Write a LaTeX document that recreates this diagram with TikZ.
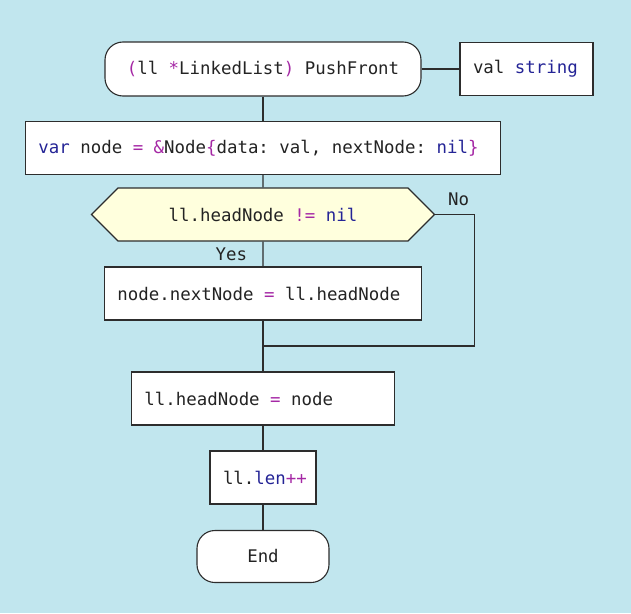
\documentclass[tikz,border=0pt]{standalone}
\usepackage{fontspec}
\setmonofont{DejaVu Sans Mono}
\usepackage{tikz}
\usetikzlibrary{shapes.symbols,positioning,calc}
\definecolor{bgblue}{RGB}{193,230,238}
\definecolor{kwblue}{RGB}{36,36,150}
\definecolor{oppurple}{RGB}{165,40,165}
\definecolor{decfill}{RGB}{255,255,221}
\definecolor{edge}{RGB}{45,45,45}
\definecolor{textgray}{RGB}{35,35,35}
\newcommand{\kw}[1]{\textcolor{kwblue}{#1}}
\newcommand{\op}[1]{\textcolor{oppurple}{#1}}
\tikzstyle{term} = [rectangle, draw=edge, fill=white, rounded corners=18pt, minimum height=54pt, align=center]
\tikzstyle{block} = [rectangle, draw=edge, fill=white, minimum height=53pt, inner xsep=13pt, align=flush left]
\tikzstyle{decision} = [signal, signal to=east and west, signal pointer angle=90, draw=edge, fill=decfill, minimum height=53pt, align=center]
\tikzstyle{line} = [draw=edge]

\begin{document}
\begin{tikzpicture}[node distance=79pt, line width=1.1pt, text=textgray, font=\ttfamily\fontsize{17.4}{20}\selectfont]
    \useasboundingbox [fill=bgblue] (-263pt,69pt) rectangle (368pt,-544pt);
    % Place nodes
    \node [term, minimum width=316pt] (start) {\op{(}ll \op{*}LinkedList\op{)} PushFront};
    \node [block, text width=107pt, right of=start, xshift=184.5pt] (arg) {val \kw{string}};
    \node [block, text width=449pt, below of=start] (init) {\kw{var} node \op{=} \op{\&}Node\op{\{}data: val, nextNode: \kw{nil}\op{\}}};
    \node [decision, minimum width=343pt, below of=init, yshift=12.5pt] (check) {ll.headNode \op{!=} \kw{nil}};
    \node [block, text width=291pt, below of=check] (link) {node.nextNode \op{=} ll.headNode};
    \node [block, text width=237pt, below of=link, yshift=-26pt] (head) {ll.headNode \op{=} node};
    \node [block, text width=80pt, below of=head] (inc) {ll.\kw{len}\op{++}};
    \node [term, minimum width=132pt, minimum height=52pt, below of=inc] (end) {End};
    \coordinate (join) at ($(link.south)!0.5!(head.north)$);
    % Draw edges
    \path [line] (start) -- (arg);
    \path [line] (start) -- (init);
    \path [line] (init) -- (check);
    \path [line] (check) -- node [left, xshift=-12pt] {Yes} (link);
    \path [line] (check.east) -- ++(39pt,0) node [pos=0.6, above, yshift=5pt] {No} |- (join);
    \path [line] (link) -- (head);
    \path [line] (head) -- (inc);
    \path [line] (inc) -- (end);

\end{tikzpicture}
\end{document}
